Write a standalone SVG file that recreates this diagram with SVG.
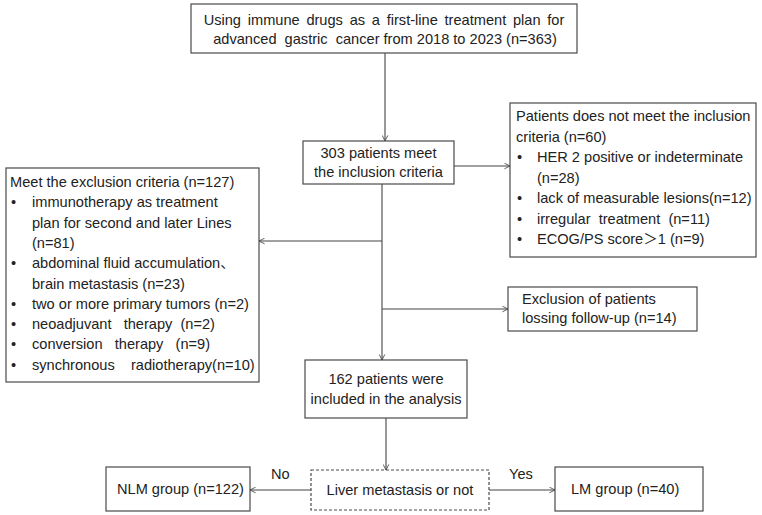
<svg xmlns="http://www.w3.org/2000/svg" width="762" height="515" viewBox="0 0 762 515">
<style>
.box{fill:#fff;stroke:#4a4a4a;stroke-width:1.2}
.dash{fill:#fff;stroke:#4a4a4a;stroke-width:1.2;stroke-dasharray:3 2}
.t{font-family:"Liberation Sans","Noto Sans CJK SC",Arial,sans-serif;font-size:14.6px;fill:#222;white-space:pre}
.c{text-anchor:middle}
.ln{stroke:#444;stroke-width:1.1;fill:none}
</style>
<defs>
<marker id="ah" viewBox="0 0 10 10" refX="9" refY="5" markerWidth="7" markerHeight="7" orient="auto" markerUnits="userSpaceOnUse">
<path d="M1,1 L9,5 L1,9" fill="none" stroke="#444" stroke-width="1.2"/>
</marker>
</defs>
<g id="connectors">
<line class="ln" x1="385" y1="53" x2="385" y2="141" marker-end="url(#ah)"/>
<line class="ln" x1="454" y1="166" x2="510" y2="166" marker-end="url(#ah)"/>
<line class="ln" x1="382" y1="184" x2="382" y2="360" marker-end="url(#ah)"/>
<line class="ln" x1="382" y1="241" x2="259" y2="241" marker-end="url(#ah)"/>
<line class="ln" x1="382" y1="309" x2="508" y2="309" marker-end="url(#ah)"/>
<line class="ln" x1="386" y1="418" x2="386" y2="470" marker-end="url(#ah)"/>
<line class="ln" x1="311" y1="490" x2="250" y2="490" marker-end="url(#ah)"/>
<line class="ln" x1="489" y1="490" x2="555" y2="490" marker-end="url(#ah)"/>
<text class="t" x="271" y="479">No</text>
<text class="t" x="509" y="479">Yes</text>
</g>
<g id="start">
<rect class="box" x="191" y="4" width="386" height="49"/>
<text class="t c" x="384" y="25" word-spacing="2.7">Using immune drugs as a first-line treatment plan for</text>
<text class="t c" x="385" y="44">advanced  gastric  cancer from 2018 to 2023 (n=363)</text>
</g>
<g id="inclusion">
<rect class="box" x="303" y="141" width="151" height="43"/>
<text class="t c" x="378.5" y="158">303 patients meet</text>
<text class="t c" x="378.5" y="177">the inclusion criteria</text>
</g>
<g id="not-meet">
<rect class="box" x="510" y="103" width="246" height="154"/>
<text class="t" x="516" y="121">Patients does not meet the inclusion</text>
<text class="t" x="516" y="141.5">criteria (n=60)</text>
<text class="t" x="517" y="162">•</text>
<text class="t" x="537" y="162">HER 2 positive or indeterminate</text>
<text class="t" x="537" y="182.5">(n=28)</text>
<text class="t" x="517" y="203">•</text>
<text class="t" x="537" y="203">lack of measurable lesions(n=12)</text>
<text class="t" x="517" y="223.5">•</text>
<text class="t" x="537" y="223.5">irregular  treatment  (n=11)</text>
<text class="t" x="517" y="244">•</text>
<text class="t" x="537" y="244">ECOG/PS score＞1 (n=9)</text>
</g>
<g id="exclusion">
<rect class="box" x="6" y="168" width="253" height="214"/>
<text class="t" x="10" y="187">Meet the exclusion criteria (n=127)</text>
<text class="t" x="11" y="207.3">•</text>
<text class="t" x="32" y="207.3">immunotherapy as treatment</text>
<text class="t" x="32" y="227.6">plan for second and later Lines</text>
<text class="t" x="32" y="247.9">(n=81)</text>
<text class="t" x="11" y="268.2">•</text>
<text class="t" x="32" y="268.2">abdominal fluid accumulation、</text>
<text class="t" x="32" y="288.5">brain metastasis (n=23)</text>
<text class="t" x="11" y="308.8">•</text>
<text class="t" x="32" y="308.8">two or more primary tumors (n=2)</text>
<text class="t" x="11" y="329.1">•</text>
<text class="t" x="32" y="329.1">neoadjuvant   therapy  (n=2)</text>
<text class="t" x="11" y="349.4">•</text>
<text class="t" x="32" y="349.4">conversion   therapy   (n=9)</text>
<text class="t" x="11" y="369.7">•</text>
<text class="t" x="32" y="369.7">synchronous    radiotherapy(n=10)</text>
</g>
<g id="lost">
<rect class="box" x="508" y="287" width="189" height="44"/>
<text class="t" x="522" y="304">Exclusion of patients</text>
<text class="t" x="522" y="323">lossing follow-up (n=14)</text>
</g>
<g id="analysis">
<rect class="box" x="305" y="360" width="162" height="58"/>
<text class="t c" x="386" y="384">162 patients were</text>
<text class="t c" x="386" y="404">included in the analysis</text>
</g>
<g id="liver">
<rect class="dash" x="311" y="470" width="178" height="40"/>
<text class="t c" x="400" y="495">Liver metastasis or not</text>
</g>
<g id="nlm">
<rect class="box" x="106" y="467" width="144" height="44"/>
<text class="t" x="117" y="494">NLM group (n=122)</text>
</g>
<g id="lm">
<rect class="box" x="555" y="467" width="148" height="44"/>
<text class="t" x="571" y="494">LM group (n=40)</text>
</g>
</svg>
